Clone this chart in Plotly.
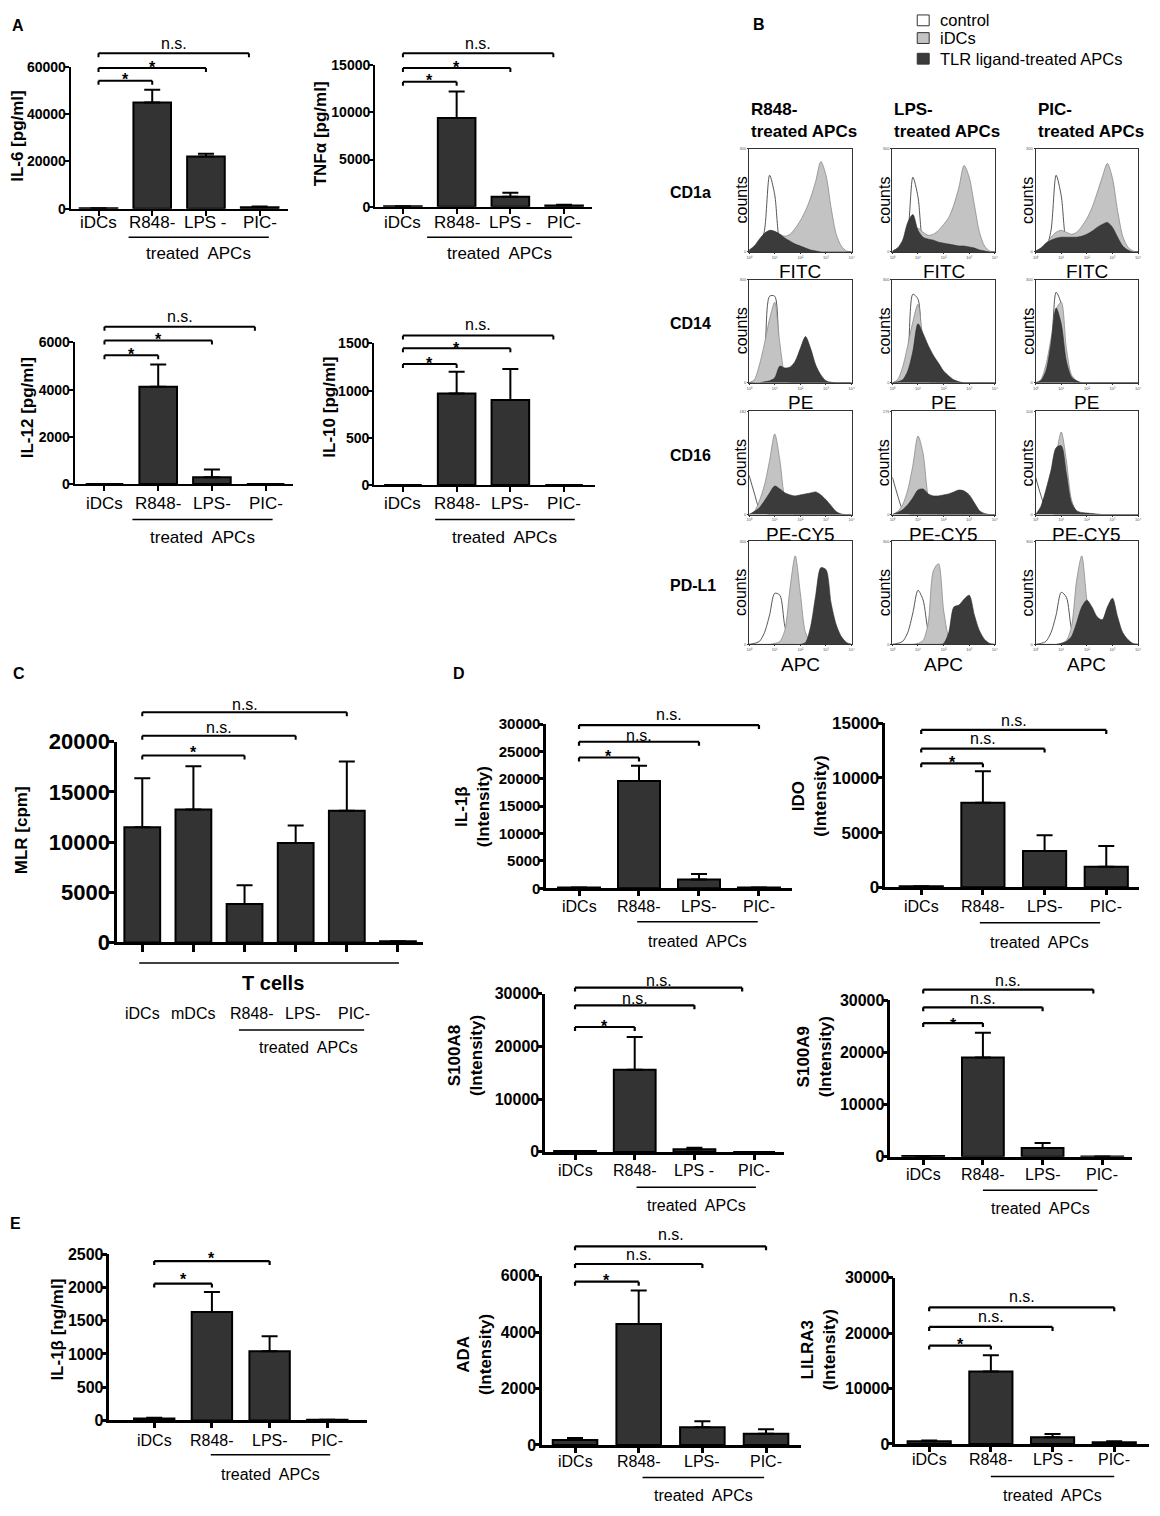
import plotly.graph_objects as go

W, H = 1160, 1516
FONT = "Liberation Sans, Arial, Helvetica, sans-serif"
BAR_FILL = "#333333"

# ---------------- values ----------------
# panel A (pg/ml)
groups_a1 = ["iDCs", "R848-", "LPS -", "PIC-"]
groups_a2 = ["iDCs", "R848-", "LPS-", "PIC-"]
il6_mean = [200, 45000, 22100, 600]
il6_sem = [0, 5400, 1200, 300]
tnfa_mean = [40, 9400, 1050, 120]
tnfa_sem = [0, 2800, 420, 80]
il12_mean = [0, 4120, 290, 0]
il12_sem = [0, 950, 330, 0]
il10_mean = [0, 970, 900, 0]
il10_sem = [0, 230, 330, 0]

# panel C (MLR, cpm)
groups_c = ["iDCs", "mDCs", "R848-", "LPS-", "PIC-"]
mlr_mean = [11470, 13240, 3820, 9900, 13130, 120]
mlr_sem = [4900, 4310, 1880, 1760, 4900, 0]

# panel D (intensity)
il1b_int_mean = [150, 19600, 1600, 150]
il1b_int_sem = [0, 2800, 1000, 0]
ido_mean = [100, 7720, 3320, 1880]
ido_sem = [0, 2880, 1440, 1890]
s100a8_mean = [150, 15560, 500, 0]
s100a8_sem = [0, 6200, 300, 0]
s100a9_mean = [150, 19060, 1700, 50]
s100a9_sem = [0, 4740, 940, 0]

# panel E
il1b_ng_mean = [30, 1630, 1040, 10]
il1b_ng_sem = [10, 300, 225, 0]
ada_mean = [175, 4290, 630, 400]
ada_sem = [70, 1190, 210, 160]
lilra3_mean = [500, 13100, 1200, 300]
lilra3_sem = [150, 2900, 600, 200]

# panel B: flow cytometry histograms, log10 fluorescence vs % of max counts
hist_x = [0.0, 0.2, 0.4, 0.6, 0.8, 1.0, 1.2, 1.4, 1.6, 1.8, 2.0,
          2.2, 2.4, 2.6, 2.8, 3.0, 3.2, 3.4, 3.6, 3.8, 4.0]
cd1a_ctrl = [[0, 1, 4, 22, 78, 58, 10, 2, 0, 0, 0, 0, 0, 0, 0, 0, 0, 0, 0, 0, 0],
             [0, 1, 4, 20, 76, 56, 9, 2, 0, 0, 0, 0, 0, 0, 0, 0, 0, 0, 0, 0, 0],
             [0, 1, 4, 22, 78, 57, 10, 2, 0, 0, 0, 0, 0, 0, 0, 0, 0, 0, 0, 0, 0]]
cd1a_idc = [[0, 3, 8, 14, 19, 20, 18, 16, 18, 24, 32, 42, 55, 72, 92, 78, 45, 18, 6, 1, 0],
            [0, 3, 8, 15, 22, 24, 20, 17, 18, 22, 28, 35, 48, 66, 88, 76, 48, 20, 6, 1, 0],
            [0, 3, 8, 15, 20, 22, 20, 18, 20, 26, 34, 45, 60, 76, 90, 75, 42, 16, 5, 1, 0]]
cd1a_tlr = [[2, 6, 13, 19, 22, 21, 18, 14, 11, 8, 6, 4, 2, 1, 0, 0, 0, 0, 0, 0, 0],
            [1, 4, 12, 30, 38, 22, 15, 13, 12, 10, 9, 8, 7, 6, 6, 5, 4, 2, 1, 0, 0],
            [1, 4, 9, 12, 14, 15, 15, 15, 15, 16, 18, 21, 25, 28, 30, 25, 15, 6, 2, 0, 0]]
cd14_ctrl = [[0, 1, 4, 25, 88, 88, 18, 3, 0, 0, 0, 0, 0, 0, 0, 0, 0, 0, 0, 0, 0],
             [0, 1, 4, 25, 90, 85, 15, 2, 0, 0, 0, 0, 0, 0, 0, 0, 0, 0, 0, 0, 0],
             [0, 1, 5, 30, 92, 80, 12, 2, 0, 0, 0, 0, 0, 0, 0, 0, 0, 0, 0, 0, 0]]
cd14_idc = [[0, 3, 18, 40, 65, 82, 40, 8, 2, 0, 0, 0, 0, 0, 0, 0, 0, 0, 0, 0, 0],
            [0, 3, 16, 38, 62, 80, 42, 12, 3, 0, 0, 0, 0, 0, 0, 0, 0, 0, 0, 0, 0],
            [0, 3, 18, 45, 75, 82, 35, 8, 2, 0, 0, 0, 0, 0, 0, 0, 0, 0, 0, 0, 0]]
cd14_tlr = [[0, 0, 0, 1, 2, 5, 17, 15, 16, 22, 35, 47, 35, 18, 8, 2, 0.5, 0, 0, 0, 0],
            [0, 1, 3, 12, 32, 60, 50, 38, 28, 20, 12, 7, 3, 1, 0, 0, 0, 0, 0, 0, 0],
            [0, 2, 12, 40, 76, 60, 22, 6, 2, 0, 0, 0, 0, 0, 0, 0, 0, 0, 0, 0, 0]]
cd16_ctrl = [[40, 22, 6, 2, 0, 0, 0, 0, 0, 0, 0, 0, 0, 0, 0, 0, 0, 0, 0, 0, 0],
             [38, 20, 5, 1, 0, 0, 0, 0, 0, 0, 0, 0, 0, 0, 0, 0, 0, 0, 0, 0, 0],
             [38, 20, 6, 2, 0, 0, 0, 0, 0, 0, 0, 0, 0, 0, 0, 0, 0, 0, 0, 0, 0]]
cd16_idc = [[0, 3, 14, 30, 55, 82, 55, 15, 3, 0, 0, 0, 0, 0, 0, 0, 0, 0, 0, 0, 0],
            [0, 3, 10, 25, 50, 80, 62, 18, 4, 0, 0, 0, 0, 0, 0, 0, 0, 0, 0, 0, 0],
            [0, 3, 12, 32, 60, 84, 55, 15, 3, 0, 0, 0, 0, 0, 0, 0, 0, 0, 0, 0, 0]]
cd16_tlr = [[0, 3, 7, 14, 22, 29, 26, 22, 20, 19, 20, 21, 22, 23, 20, 15, 9, 3, 0.5, 0, 0],
            [0, 2, 5, 10, 17, 25, 26, 21, 19, 19, 20, 21, 23, 25, 24, 20, 12, 4, 1, 0, 0],
            [0, 8, 25, 45, 68, 70, 42, 12, 4, 2, 1.5, 1, 0.5, 0, 0, 0, 0, 0, 0, 0, 0]]
pdl1_ctrl = [[0, 1, 3, 12, 30, 52, 50, 18, 4, 1, 0, 0, 0, 0, 0, 0, 0, 0, 0, 0, 0],
             [0, 1, 3, 12, 32, 55, 45, 14, 3, 1, 0, 0, 0, 0, 0, 0, 0, 0, 0, 0, 0],
             [0, 1, 3, 12, 30, 53, 48, 16, 4, 1, 0, 0, 0, 0, 0, 0, 0, 0, 0, 0, 0]]
pdl1_idc = [[0, 0, 0, 0, 0, 1, 3, 15, 58, 90, 52, 12, 3, 1, 0, 0, 0, 0, 0, 0, 0],
            [0, 0, 0, 0, 0, 1, 4, 22, 75, 82, 35, 8, 2, 0, 0, 0, 0, 0, 0, 0, 0],
            [0, 0, 0, 0, 0, 1, 4, 18, 65, 90, 45, 12, 3, 1, 0, 0, 0, 0, 0, 0, 0]]
pdl1_tlr = [[0, 0, 0, 0, 0, 0, 0, 0, 0, 0, 0, 2, 18, 50, 78, 76, 42, 20, 8, 2, 0],
            [0, 0, 0, 0, 0, 0, 0, 0, 0, 0, 1, 12, 38, 40, 46, 50, 30, 14, 5, 1, 0],
            [0, 0, 0, 0, 0, 1, 3, 8, 22, 38, 45, 38, 28, 25, 38, 47, 28, 12, 5, 1, 0]]

markers = ["CD1a", "CD14", "CD16", "PD-L1"]
channels = ["FITC", "PE", "PE-CY5", "APC"]
treatments = ["R848-", "LPS-", "PIC-"]
top_counts = [["300", "300", "300"], ["300", "300", "300"],
              ["182", "176", "104"], ["300", "300", "300"]]

# ---------------- helpers ----------------
fig = go.Figure()
layout = {}
shapes = []
annotations = []


def fx(p):
    return p / W


def fy(p):
    return 1 - p / H


def text(x, y, s, size=15, bold=False, angle=0, xanchor="center",
         yanchor="middle", xref="paper", align="center", yshift=0):
    annotations.append(dict(
        x=fx(x) if xref == "paper" else x, y=fy(y), xref=xref, yref="paper",
        text="<b>%s</b>" % s if bold else s, showarrow=False, textangle=angle,
        xanchor=xanchor, yanchor=yanchor, align=align, yshift=yshift,
        font=dict(family=FONT, size=size, color="black")))


def hline(xref, x0, x1, y, width=1.5, color="black"):
    shapes.append(dict(type="line", xref=xref, yref="paper", x0=x0, x1=x1,
                       y0=fy(y), y1=fy(y), line=dict(color=color, width=width)))


def vline(xref, x, y0, y1, width=1.5):
    shapes.append(dict(type="line", xref=xref, yref="paper", x0=x, x1=x,
                       y0=fy(y0), y1=fy(y1), line=dict(color="black", width=width)))


def bar_panel(n, g, mean, sem, groups, brackets, title):
    xr, yr = "x%d" % n, "y%d" % n
    lw = g.get("lw", 2)
    lo = (g["ax"] - g["c0"]) / g["step"]
    hi = (g["end"] - g["c0"]) / g["step"]
    cats = list(range(len(mean)))
    layout["xaxis%d" % n] = dict(
        domain=[fx(g["ax"]), fx(g["end"])], range=[lo, hi], anchor=yr,
        showline=True, linewidth=lw, linecolor="black", ticks="outside",
        ticklen=g.get("tl", 5), tickwidth=lw, tickcolor="black",
        tickvals=cats, showticklabels=False, showgrid=False, zeroline=False)
    yt = list(range(0, g["ymax"] + 1, g["dtick"]))
    layout["yaxis%d" % n] = dict(
        domain=[fy(g["zero"]), fy(g["top"])], range=[0, g["ymax"]], anchor=xr,
        showline=True, linewidth=lw, linecolor="black", ticks="outside",
        ticklen=5, tickwidth=lw, tickcolor="black", tickvals=yt,
        ticktext=[str(v) for v in yt], ticklabelstandoff=-5,
        tickfont=dict(family=FONT, size=g["tsize"], color="black", weight="bold"),
        showgrid=False, zeroline=False)
    fig.add_trace(go.Bar(
        x=cats, y=mean, width=0.7, xaxis=xr, yaxis=yr,
        marker=dict(color=BAR_FILL, line=dict(color="black", width=2)),
        error_y=dict(type="data", array=sem, arrayminus=[0] * len(sem),
                     symmetric=False, color="black", thickness=2, width=8),
        showlegend=False, hoverinfo="skip"))
    # significance brackets
    for end, y, lab, ly in brackets:
        bw = g.get("bw", 2)
        hline(xr, 0, end, y, bw)
        vline(xr, 0, y, y + 4, bw)
        vline(xr, end, y, y + 4, bw)
        if lab == "*":
            text(end / 2, ly, lab, size=16, bold=True, xref=xr, yshift=-4)
        else:
            text(end / 2, ly, lab, size=g.get("nsize", 16), xref=xr)
    # group labels and "treated APCs"
    if groups:
        for i, lab in enumerate(groups):
            text(i, g["lab"], lab, size=g.get("lsize", 17), xref=xr)
        u0, u1 = g["under"]
        hline(xr, u0, u1, g["line"], 1.5)
        text((u0 + u1) / 2, g["treat"], "treated  APCs", size=g.get("lsize", 17), xref=xr)
    tx, ty = g["ttl"]
    text(tx, ty, title, size=g.get("ttlsize", 17), bold=True, angle=-90)


def hist_panel(n, left, top, ctrl, idc, tlr, channel, ymax_lab):
    xr, yr = "x%d" % n, "y%d" % n
    w, h = 103, 105
    tiny = dict(family=FONT, size=4, color="#555")
    layout["xaxis%d" % n] = dict(
        domain=[fx(left), fx(left + w)], range=[0, 4], anchor=yr,
        showline=True, mirror=True, linewidth=1.2, linecolor="#333",
        ticks="outside", ticklen=1, tickwidth=0.8, tickcolor="#333",
        tickvals=[0, 1, 2, 3, 4], ticktext=["10⁰", "10¹", "10²", "10³", "10⁴"],
        tickfont=tiny, showgrid=False, zeroline=False)
    layout["yaxis%d" % n] = dict(
        domain=[fy(top + h), fy(top)], range=[0, 105], anchor=xr,
        showline=True, mirror=True, linewidth=1.2, linecolor="#333",
        ticks="outside", ticklen=1, tickwidth=0.8, tickcolor="#333",
        tickvals=[0, 105], ticktext=["0", ymax_lab],
        tickfont=tiny, showgrid=False, zeroline=False)
    for ys, fill, lc, lw in [(ctrl, "white", "#444444", 0.9),
                             (idc, "#c3c3c3", "#8a8a8a", 0.8),
                             (tlr, "#3b3b3b", "#2a2a2a", 0.6)]:
        fig.add_trace(go.Scatter(
            x=hist_x, y=ys, mode="lines", xaxis=xr, yaxis=yr,
            line=dict(color=lc, width=lw, shape="spline", smoothing=0.8),
            fill="tozeroy", fillcolor=fill, showlegend=False, hoverinfo="skip"))
    text(left - 8, top + h / 2, "counts", size=16, angle=-90)
    text(left + w / 2, top + h + 20, channel, size=19)


# ---------------- panel A ----------------
geo = dict(step=54, lab=214, line=229, treat=246, tsize=14)
bar_panel(1, dict(geo, ax=68, end=286, c0=96, top=56, zero=200, ymax=60000, dtick=20000,
                  under=(0.56, 3.17), ttl=(15, 126)),
          il6_mean, il6_sem, groups_a1,
          [(2.8, 42, "n.s.", 32), (2.0, 57, "*", 52), (1.0, 70, "*", 65)], "IL-6 [pg/ml]")
bar_panel(2, dict(geo, ax=374, end=592, c0=402, top=54, zero=198, ymax=15000, dtick=5000,
                  under=(0.45, 3.15), ttl=(320, 124)),
          tnfa_mean, tnfa_sem, groups_a1,
          [(2.8, 42, "n.s.", 32), (2.0, 57, "*", 52), (1.0, 71, "*", 66)], "TNFα [pg/ml]")
geo = dict(step=54, lab=500, line=516, treat=534, tsize=14)
bar_panel(3, dict(geo, ax=72, end=292, c0=102, top=336, zero=480, ymax=6000, dtick=2000,
                  under=(0.52, 3.13), ttl=(25, 402)),
          il12_mean, il12_sem, groups_a2,
          [(2.8, 320, "n.s.", 310), (2.0, 334, "*", 329), (1.0, 349, "*", 344)], "IL-12 [pg/ml]")
bar_panel(4, dict(geo, ax=373, end=595, c0=402, top=337, zero=481, ymax=1500, dtick=500,
                  under=(0.6, 3.2), ttl=(328, 402)),
          il10_mean, il10_sem, groups_a2,
          [(2.8, 329, "n.s.", 318), (2.0, 342, "*", 338), (1.0, 358, "*", 353)], "IL-10 [pg/ml]")

# ---------------- panel C ----------------
gc = dict(ax=115, end=422, c0=140, step=51.4, top=742, zero=946, ymax=20000, dtick=5000,
          tsize=22, lw=3, tl=7, ttl=(18, 832))
bar_panel(5, gc, mlr_mean, mlr_sem, None,
          [(4, 712, "n.s.", 704), (3, 736, "n.s.", 728), (2, 756, "*", 749)], "MLR [cpm]")
hline("x5", -0.06, 5.02, 967, 1.5)
text(2.55, 987, "T cells", size=20, bold=True, xref="x5")
for i, lab in enumerate(groups_c):
    text(i + (0.15 if i >= 2 else 0), 1018, lab, size=16, xref="x5")
hline("x5", 1.89, 4.34, 1035, 1.5)
text(3.25, 1053, "treated  APCs", size=16, xref="x5")

# ---------------- panel D ----------------
gd = dict(lsize=16, lw=2.5, bw=2.2)
bar_panel(6, dict(gd, ax=546, end=793, c0=579, step=60.3, top=724, zero=891, ymax=30000,
                  dtick=5000, lab=909, line=925, treat=945, under=(0.97, 2.98), tsize=15,
                  ttl=(472, 808)),
          il1b_int_mean, il1b_int_sem, groups_a2,
          [(3, 725, "n.s.", 714), (2, 742, "n.s.", 736), (1, 758, "*", 753)],
          "IL-1β<br>(Intensity)")
bar_panel(7, dict(gd, ax=887, end=1142, c0=923, step=62, top=723, zero=890, ymax=15000,
                  dtick=5000, lab=909, line=926, treat=946, under=(0.95, 2.9), tsize=17,
                  ttl=(811, 797)),
          ido_mean, ido_sem, groups_a2,
          [(3, 730, "n.s.", 720), (2, 749, "n.s.", 739), (1, 764, "*", 759)],
          "IDO<br>(Intensity)")
bar_panel(8, dict(gd, ax=545, end=785, c0=575, step=60, top=998, zero=1159, ymax=30000,
                  dtick=10000, lab=1178, line=1195, treat=1214, under=(1.03, 3.03), tsize=16,
                  ttl=(465, 1061)),
          s100a8_mean, s100a8_sem, groups_a1,
          [(2.8, 992, "n.s.", 985), (2, 1010, "n.s.", 1003), (1, 1032, "*", 1027)],
          "S100A8<br>(Intensity)")
bar_panel(9, dict(gd, ax=892, end=1135, c0=925, step=60, top=1005, zero=1164, ymax=30000,
                  dtick=10000, lab=1182, line=1198, treat=1217, under=(1.0, 2.92), tsize=16,
                  ttl=(816, 1062)),
          s100a9_mean, s100a9_sem, groups_a2,
          [(2.85, 994, "n.s.", 985), (2, 1012, "n.s.", 1003), (1, 1028, "*", 1025)],
          "S100A9<br>(Intensity)")

# ---------------- panel E ----------------
bar_panel(10, dict(gd, ax=107, end=366, c0=152, step=58, top=1263, zero=1432, ymax=2500,
                   dtick=500, lab=1452, line=1467, treat=1487, under=(0.98, 3.05), tsize=16,
                   ttl=(55, 1340)),
          il1b_ng_mean, il1b_ng_sem, groups_a2,
          [(2, 1270, "*", 1263), (1, 1293, "*", 1285)], "IL-1β [ng/ml]")
bar_panel(11, dict(gd, ax=542, end=802, c0=575, step=64, top=1285, zero=1457, ymax=6000,
                   dtick=2000, lab=1474, line=1490, treat=1508, under=(1.06, 2.97), tsize=16,
                   ttl=(474, 1365)),
          ada_mean, ada_sem, groups_a2,
          [(3, 1255, "n.s.", 1243), (2, 1273, "n.s.", 1263), (1, 1291, "*", 1286)],
          "ADA<br>(Intensity)")
bar_panel(12, dict(gd, ax=897, end=1152, c0=931, step=62, top=1287, zero=1456, ymax=30000,
                   dtick=10000, lab=1472, line=1489, treat=1508, under=(1.0, 3.0), tsize=16,
                   ttl=(820, 1360)),
          lilra3_mean, lilra3_sem, groups_a1,
          [(3, 1317, "n.s.", 1306), (2, 1337, "n.s.", 1326), (1, 1356, "*", 1351)],
          "LILRA3<br>(Intensity)")

# ---------------- panel B ----------------
col_left = [750, 894, 1038]
row_top = [139, 272, 406, 538]
row_sets = [(cd1a_ctrl, cd1a_idc, cd1a_tlr), (cd14_ctrl, cd14_idc, cd14_tlr),
            (cd16_ctrl, cd16_idc, cd16_tlr), (pdl1_ctrl, pdl1_idc, pdl1_tlr)]
n = 13
for r, (ctrl, idc, tlr) in enumerate(row_sets):
    for c in range(3):
        hist_panel(n, col_left[c], row_top[r], ctrl[c], idc[c], tlr[c],
                   channels[r], top_counts[r][c])
        n += 1
    text(668, row_top[r] + 45, markers[r], size=16, bold=True, xanchor="left")
for c, t in enumerate(treatments):
    text(col_left[c], 110, t + "<br>treated APCs", size=17, bold=True,
         xanchor="left", align="left")

# legend of panel B
for y0, fill, lab in [(3, "white", "control"), (21, "#c3c3c3", "iDCs"),
                      (42, "#3b3b3b", "TLR ligand-treated APCs")]:
    shapes.append(dict(type="rect", xref="paper", yref="paper",
                       x0=fx(919), x1=fx(931), y0=fy(y0 + 11), y1=fy(y0),
                       fillcolor=fill, line=dict(color="#333", width=1)))
    text(940, y0 + 5.5, lab, size=16.5, xanchor="left")

# panel letters
for lab, x, y in [("A", 7, 14), ("B", 752, 13), ("C", 8, 673), ("D", 450, 673), ("E", 5, 1232)]:
    text(x, y, lab, size=16, bold=True, xanchor="left")

fig.update_layout(
    width=W, height=H, margin=dict(l=0, r=0, t=0, b=0),
    paper_bgcolor="white", plot_bgcolor="white", showlegend=False,
    font=dict(family=FONT, color="black"),
    shapes=shapes, annotations=annotations, **layout)

# pin the figure to the window corner so nothing overflows the page
pin = ("document.body.style.margin='0';"
       "document.body.style.overflow='hidden';"
       "document.documentElement.style.overflow='hidden';"
       "var d=document.querySelector('.plotly-graph-div');"
       "d.style.position='fixed';d.style.left='0px';d.style.top='0px';")
fig.write_html("out.html", config={"displayModeBar": False}, post_script=pin)
